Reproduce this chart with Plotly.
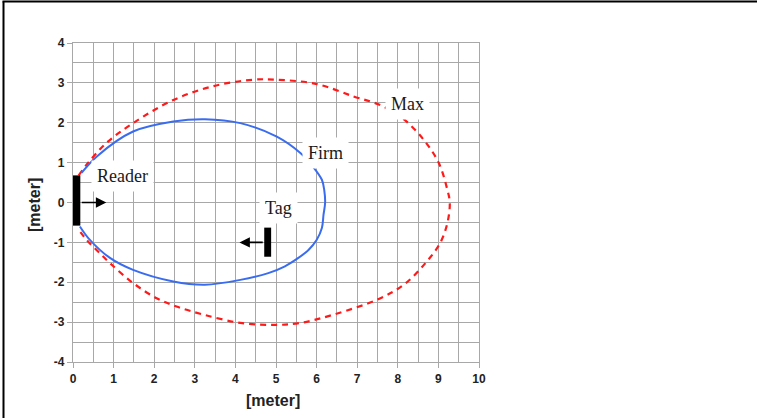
import plotly.graph_objects as go

# ---- data (meters) ----
firm_x = [0.21, 0.58, 1.48, 2.47, 3.25, 4.12, 5.02, 5.60, 5.91, 6.13, 6.19, 6.21,
          6.17, 6.13, 6.00, 5.80, 5.55, 5.22, 4.81, 4.12, 3.25, 2.47, 1.48, 0.91, 0.41, 0.17]
firm_y = [0.74, 1.15, 1.78, 2.03, 2.09, 1.99, 1.65, 1.24, 0.90, 0.57, 0.30, 0.00,
          -0.31, -0.64, -0.94, -1.19, -1.39, -1.60, -1.77, -1.94, -2.06, -1.98, -1.69, -1.39, -0.93, -0.60]

max_x = [0.14, 0.37, 0.82, 1.48, 2.47, 3.46, 4.44, 5.02, 6.01, 6.91, 7.55, 8.11,
         8.64, 9.01, 9.22, 9.28, 9.22, 9.04, 8.68, 8.15, 7.53, 6.42, 5.60, 4.94,
         4.12, 3.21, 2.55, 2.06, 1.48, 0.91, 0.58, 0.33, 0.14]
max_y = [0.68, 0.99, 1.49, 1.99, 2.57, 2.92, 3.08, 3.08, 2.97, 2.66, 2.45, 2.12,
         1.57, 0.99, 0.32, 0.00, -0.52, -1.02, -1.52, -2.06, -2.42, -2.81, -3.02, -3.07,
         -3.02, -2.81, -2.61, -2.40, -2.02, -1.52, -1.19, -0.93, -0.68]

x_ticks = list(range(0, 11))
y_ticks = list(range(-4, 5))

labels = ["Reader", "Firm", "Tag", "Max"]
label_x = [1.23, 6.21, 5.05, 8.23]
label_y = [0.67, 1.25, -0.13, 2.48]

# icons: reader box and tag bar (x0, x1, y0, y1), arrows (from_x, to_x, y)
reader_box = [-0.15, 0.18, -0.58, 0.68]
reader_arrow = [0.18, 0.82, 0.0]
tag_bar = [4.71, 4.88, -1.36, -0.63]
tag_arrow = [4.71, 4.10, -1.0]

axis_title = "[meter]"

# ---- layout geometry ----
W, H = 757, 418
ML, MR, MT, MB = 73, 278, 43, 56
PW, PH = W - ML - MR, H - MT - MB


def px(xpix):
    return (xpix - ML) / PW


def py(ypix):
    return (H - MB - ypix) / PH


GRID = "#a8a8a8"

fig = go.Figure()
fig.add_trace(go.Scatter(x=max_x, y=max_y, mode="lines", line_shape="spline",
                         line=dict(color="#ff1a1a", width=2.2, dash="6px,5px"),
                         hoverinfo="skip"))
fig.add_trace(go.Scatter(x=firm_x, y=firm_y, mode="lines", line_shape="spline",
                         line=dict(color="#3a6cf0", width=2),
                         hoverinfo="skip"))

shapes = [
    dict(type="rect", xref="x", yref="y", x0=reader_box[0], x1=reader_box[1],
         y0=reader_box[2], y1=reader_box[3], fillcolor="black", line=dict(width=0)),
    dict(type="rect", xref="x", yref="y", x0=tag_bar[0], x1=tag_bar[1],
         y0=tag_bar[2], y1=tag_bar[3], fillcolor="black", line=dict(width=0)),
    # outer frame (left and top)
    dict(type="line", xref="paper", yref="paper", x0=px(3.5), x1=px(3.5),
         y0=py(H + 2), y1=py(1.5), line=dict(color="black", width=2)),
    dict(type="line", xref="paper", yref="paper", x0=px(2.5), x1=px(W + 2),
         y0=py(1.5), y1=py(1.5), line=dict(color="black", width=2)),
]

annotations = []
for t, x, y in zip(labels, label_x, label_y):
    annotations.append(dict(x=x, y=y, xref="x", yref="y", text=t, showarrow=False,
                            font=dict(family="Liberation Serif", size=18, color="#1a1a1a"),
                            bgcolor="white", borderpad=5))
for fx, tx, yy in (reader_arrow, tag_arrow):
    annotations.append(dict(x=tx, y=yy, ax=fx, ay=yy, xref="x", yref="y",
                            axref="x", ayref="y", text="", showarrow=True,
                            arrowhead=2, arrowsize=1.3, arrowwidth=1.6,
                            arrowcolor="black", standoff=0, startstandoff=0))
annotations.append(dict(x=px(273), y=py(400), xref="paper", yref="paper",
                        xanchor="center", yanchor="middle",
                        text="<b>" + axis_title + "</b>", showarrow=False,
                        font=dict(family="Liberation Sans", size=16, color="#222")))
annotations.append(dict(x=px(34), y=py(205), xref="paper", yref="paper",
                        xanchor="center", yanchor="middle",
                        text="<b>" + axis_title + "</b>", showarrow=False, textangle=-90,
                        font=dict(family="Liberation Sans", size=16, color="#222")))

axis_common = dict(showgrid=True, gridcolor=GRID, gridwidth=1.3,
                   zeroline=False, showline=True, linecolor=GRID, linewidth=1.3,
                   mirror=True, ticks="outside", ticklen=5, tickcolor=GRID,
                   tickwidth=1.3,
                   tickfont=dict(family="Liberation Sans", size=12, color="#222"),
                   minor=dict(dtick=0.5, showgrid=True, gridcolor=GRID, gridwidth=1.3,
                              ticks=""),
                   automargin=False, fixedrange=True)

fig.update_xaxes(range=[0, 10], tickvals=x_ticks,
                 ticktext=["<b>%d</b>" % v for v in x_ticks], **axis_common)
fig.update_yaxes(range=[-4, 4], tickvals=y_ticks,
                 ticktext=["<b>%d</b>" % v for v in y_ticks], **axis_common)

fig.update_layout(width=W, height=H, margin=dict(l=ML, r=MR, t=MT, b=MB),
                  paper_bgcolor="white", plot_bgcolor="white", showlegend=False,
                  shapes=shapes, annotations=annotations)

fig.write_html("out.html", config={"displayModeBar": False},
               post_script="document.body.style.margin='0';document.body.style.overflow='hidden';")
